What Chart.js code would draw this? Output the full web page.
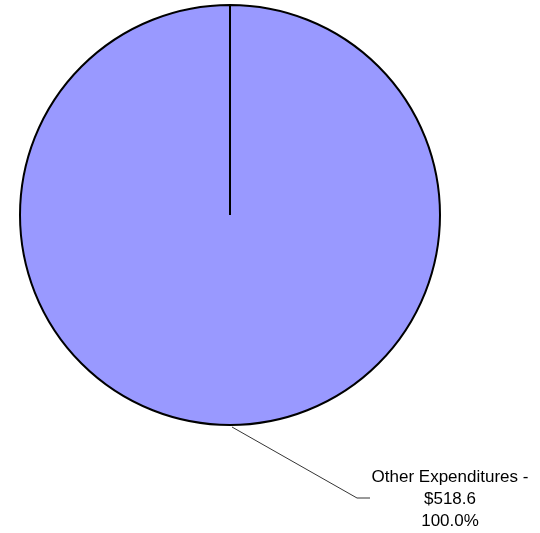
<!DOCTYPE html>
<html>
<head>
<meta charset="utf-8">
<script src="https://cdn.jsdelivr.net/npm/chart.js@4/dist/chart.umd.min.js"></script>
<style>
  html, body { margin: 0; padding: 0; background: #fff; }
  #wrap { width: 540px; height: 533px; position: relative; }
</style>
</head>
<body>
<div id="wrap"><canvas id="pie"></canvas></div>
<script>
const categories = ['Other Expenditures'];
const amounts = [518.6];
const sliceColors = ['#9999FF'];

const total = amounts.reduce((a, b) => a + b, 0);

// leader line + three line label under the slice
const calloutPlugin = {
    id: 'callout',
    afterDatasetsDraw(chart) {
        const ctx = chart.ctx;
        const meta = chart.getDatasetMeta(0);
        meta.data.forEach((arc, i) => {
            const p = arc.getProps(['x', 'y', 'startAngle', 'endAngle', 'outerRadius'], true);
            const mid = (p.startAngle + p.endAngle) / 2;
            const sx = p.x + Math.cos(mid) * p.outerRadius + 2;
            const sy = p.y + Math.sin(mid) * p.outerRadius + 2;
            const ex = sx + 125, ey = sy + 71;

            ctx.save();
            ctx.strokeStyle = '#000';
            ctx.lineWidth = 0.8;
            ctx.beginPath();
            ctx.moveTo(sx, sy);
            ctx.lineTo(ex, ey);
            ctx.lineTo(ex + 13, ey);
            ctx.stroke();

            const pct = amounts[i] / total * 100;
            const lines = [
                categories[i] + ' -',
                '$' + amounts[i].toFixed(1),
                pct.toFixed(1) + '%'
            ];
            ctx.fillStyle = '#000';
            ctx.font = '17px "Liberation Sans", Arial, sans-serif';
            ctx.textAlign = 'center';
            ctx.textBaseline = 'alphabetic';
            lines.forEach((t, k) => ctx.fillText(t, ex + 93, ey - 16 + k * 22));
            ctx.restore();
        });
    }
};

new Chart(document.getElementById('pie'), {
    type: 'pie',
    data: {
        labels: categories,
        datasets: [{
            data: amounts,
            backgroundColor: sliceColors,
            borderColor: '#000',
            borderWidth: 2
        }]
    },
    options: {
        responsive: true,
        maintainAspectRatio: false,
        animation: false,
        layout: { padding: { left: 19, top: 4, right: 99, bottom: 107 } },
        plugins: {
            legend: { display: false },
            tooltip: { enabled: false }
        }
    },
    plugins: [calloutPlugin]
});
</script>
</body>
</html>
